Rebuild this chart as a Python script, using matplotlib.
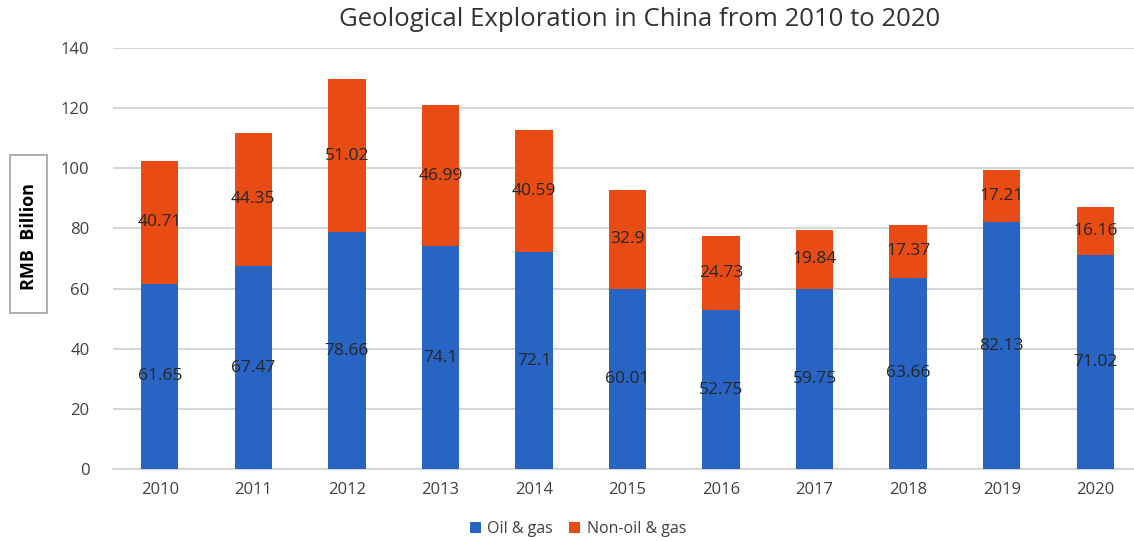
import matplotlib
matplotlib.use("Agg")
import matplotlib.pyplot as plt
from matplotlib.patches import Rectangle
import numpy as np

years = ["2010", "2011", "2012", "2013", "2014", "2015", "2016", "2017", "2018", "2019", "2020"]
oil_gas = [61.65, 67.47, 78.66, 74.1, 72.1, 60.01, 52.75, 59.75, 63.66, 82.13, 71.02]
non_oil_gas = [40.71, 44.35, 51.02, 46.99, 40.59, 32.9, 24.73, 19.84, 17.37, 17.21, 16.16]
oil_labels = ["61.65", "67.47", "78.66", "74.1", "72.1", "60.01", "52.75", "59.75", "63.66", "82.13", "71.02"]
non_labels = ["40.71", "44.35", "51.02", "46.99", "40.59", "32.9", "24.73", "19.84", "17.37", "17.21", "16.16"]

plt.rcParams['font.family'] = ['Open Sans', 'DejaVu Sans']

W, H = 1134, 541
fig = plt.figure(figsize=(W / 100, H / 100), dpi=100)
ax = fig.add_axes([113 / W, 1 - 469 / H, (1142 - 113) / W, (469 - 48) / H])

blue = "#2764C4"
orange = "#E94B14"
x = np.arange(len(years))
w = 0.4
b1 = ax.bar(x, oil_gas, w, color=blue, label="Oil & gas", zorder=3)
b2 = ax.bar(x, non_oil_gas, w, bottom=oil_gas, color=orange, label="Non-oil & gas", zorder=3)

for i in range(len(years)):
    ax.text(x[i], oil_gas[i] / 2, oil_labels[i], ha="center", va="center",
            fontsize=12.5, color="#262626", zorder=4)
    ax.text(x[i], oil_gas[i] + non_oil_gas[i] / 2, non_labels[i], ha="center", va="center",
            fontsize=12.5, color="#262626", zorder=4)

ax.set_xlim(-0.5, len(years) - 0.5)
ax.set_ylim(0, 140)
ax.set_yticks(np.arange(0, 141, 20))
ax.set_xticks(x)
ax.set_xticklabels(years)
ax.tick_params(axis="both", length=0, labelsize=12, labelcolor="#404040")
ax.tick_params(axis="y", pad=17)
ax.tick_params(axis="x", pad=9)
ax.grid(axis="y", color="#D0D0D0", linewidth=1.2, zorder=0)
for s in ["top", "right", "left"]:
    ax.spines[s].set_visible(False)
ax.spines["bottom"].set_color("#D0D0D0")
ax.spines["bottom"].set_linewidth(1.2)

fig.text(640 / W, 1 - 20 / H, "Geological Exploration in China from 2010 to 2020",
         ha="center", va="center", fontsize=18.5, color="#333333")

fig.patches.append(Rectangle((10 / W, 1 - 313 / H), 37 / W, 158 / H, transform=fig.transFigure,
                             facecolor="white", edgecolor="#A0A0A0", linewidth=1.2, zorder=1))
fig.text(29 / W, 1 - 237 / H, "RMB  Billion", rotation=90, ha="center", va="center",
         fontsize=13, fontweight="bold", color="black", zorder=2)

fig.legend(handles=[b1, b2], loc="center", bbox_to_anchor=(578 / W, 1 - 529 / H), ncol=2,
           frameon=False, fontsize=11.5, handlelength=0.7, handleheight=0.7,
           handletextpad=0.4, columnspacing=1.0, labelcolor="#404040")

fig.savefig("out.png", dpi=100)
